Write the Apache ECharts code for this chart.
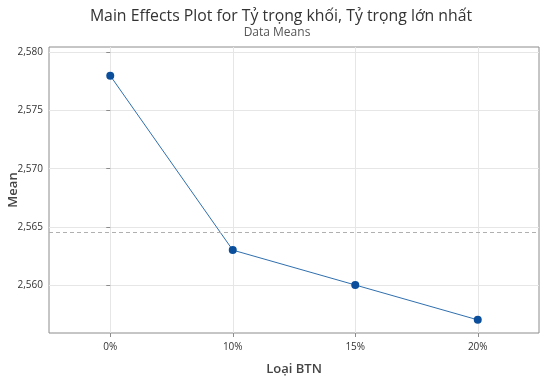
<!DOCTYPE html>
<html><head><meta charset="utf-8">
<script src="https://cdn.jsdelivr.net/npm/echarts@6/dist/echarts.min.js"></script>
<style>html,body{margin:0;padding:0;background:#fff}#c{width:551px;height:390px}</style>
</head><body><div id="c"></div>
<script>
const categories = ['0%', '10%', '15%', '20%'];
const means = [2.578, 2.563, 2.560, 2.557];
const yTicks = [2.560, 2.565, 2.570, 2.575, 2.580];
const yMin = 2.55587, yMax = 2.58047;
const grandMean = means.reduce((a, b) => a + b, 0) / means.length;
const xIdx = categories.map((c, i) => i);

const chart = echarts.init(document.getElementById('c'), null, {renderer: 'canvas'});
const font = '"Open Sans", "Noto Sans", sans-serif';
chart.setOption({
  animation: false,
  title: [
    {text: 'Main Effects Plot for Tỷ trọng khối, Tỷ trọng lớn nhất', left: 276, top: 3, textAlign: 'center',
     textStyle: {fontFamily: font, fontSize: 15.8, fontWeight: 'normal', color: '#333'}},
    {text: 'Data Means', left: 272, top: 22, textAlign: 'center',
     textStyle: {fontFamily: font, fontSize: 12, fontWeight: 'normal', color: '#555'}}
  ],
  grid: {left: 49, right: 12, top: 47, bottom: 57, outerBoundsMode: 'none', containLabel: false,
         show: true, borderColor: '#8c8c8c', borderWidth: 1, backgroundColor: '#fff'},
  xAxis: {
    type: 'value', min: -0.5, max: categories.length - 0.5,
    name: 'Loại BTN', nameLocation: 'middle', nameGap: 30, nameMoveOverlap: false,
    nameTextStyle: {fontFamily: font, fontSize: 13, fontWeight: 600, color: '#444'},
    axisLine: {show: false},
    axisTick: {show: true, customValues: xIdx, length: 4, lineStyle: {color: '#8c8c8c'}},
    axisLabel: {customValues: xIdx, formatter: v => categories[Math.round(v)], fontFamily: font, fontSize: 10, color: '#333', margin: 9},
    splitLine: {show: true, lineStyle: {color: '#e6e6e6'}}
  },
  yAxis: {
    type: 'value', min: yMin, max: yMax,
    name: 'Mean', nameLocation: 'middle', nameGap: 29, nameMoveOverlap: false,
    nameTextStyle: {fontFamily: font, fontSize: 13, fontWeight: 600, color: '#444'},
    axisLine: {show: false},
    axisTick: {show: true, customValues: yTicks, length: 4, lineStyle: {color: '#8c8c8c'}},
    axisLabel: {customValues: yTicks, formatter: v => v.toFixed(3).replace('.', ','), fontFamily: font, fontSize: 10, color: '#333', margin: 6},
    splitLine: {show: true, lineStyle: {color: '#e6e6e6'}}
  },
  series: [{
    type: 'line',
    data: means.map((v, i) => [i, v]),
    symbol: 'circle', symbolSize: 8,
    itemStyle: {color: '#0b4f9c'},
    lineStyle: {color: '#2f6fae', width: 1},
    markLine: {
      silent: true, symbol: 'none', label: {show: false}, precision: 6,
      lineStyle: {type: [4, 3], color: '#b0b0b0', width: 1},
      data: [{yAxis: grandMean}]
    }
  }]
});
</script></body></html>
